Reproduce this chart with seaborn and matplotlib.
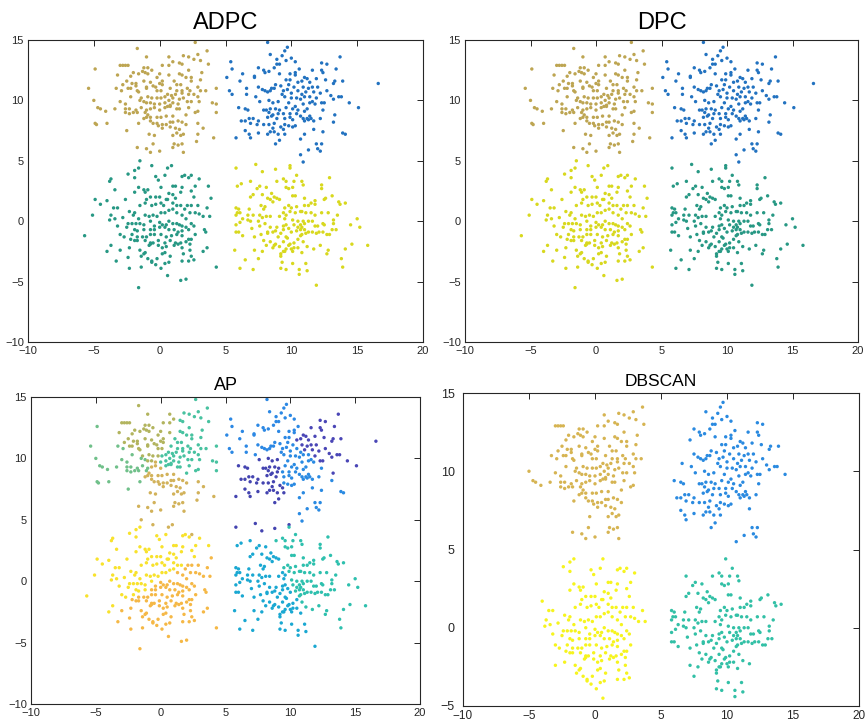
import numpy as np
import pandas as pd
import matplotlib
matplotlib.use("Agg")
import matplotlib.pyplot as plt
import seaborn as sns

# ---- point data: four Gaussian-like blobs (x, y) ----
blob_ul = [(2.7,14.8),(-1.7,14.3),(-1.0,13.6),(3.6,14.1),(0.7,13.6),(1.8,13.7),(2.2,13.6),(2.9,13.8),(2.6,13.4),(3.1,13.3),(1.0,13.2),(1.5,13.1),(1.7,13.0),(-4.9,12.6),(-3.0,12.9),(-2.8,12.9),(-2.6,12.9),(-2.4,12.9),(0.2,12.9),(0.7,12.9),(3.7,13.0),(-1.2,12.7),(-0.9,12.7),(-0.6,12.5),(2.2,12.5),(-1.3,12.4),(-2.0,12.3),(-1.6,12.2),(-1.1,12.3),(-0.9,12.2),(-3.2,12.1),(-2.2,12.0),(-0.2,11.9),(0.0,12.2),(0.7,12.1),(1.5,12.2),(1.7,12.1),(3.2,12.3),(2.0,11.9),(2.4,11.9),(2.4,11.6),(3.1,11.7),(0.2,11.6),(0.0,11.4),(-1.2,11.6),(-0.7,11.5),(-2.5,11.6),(-2.1,11.4),(-1.8,11.4),(-2.8,11.3),(-1.8,11.2),(-1.0,11.1),(-0.5,11.2),(-0.3,11.1),(0.2,11.3),(0.8,11.0),(1.1,11.6),(1.3,11.3),(1.6,11.3),(1.7,10.8),(-3.3,11.0),(-5.4,11.0),(-2.9,10.8),(-2.4,11.0),(-2.2,11.0),(-1.7,10.8),(-1.6,10.7),(-1.0,11.0),(-0.2,10.8),(0.1,10.8),(1.3,10.8),(2.1,11.0),(2.3,10.8),(2.9,11.1),(3.1,10.8),(3.5,10.8),(4.3,11.0),(0.6,10.5),(0.9,10.4),(1.2,10.5),(1.7,10.6),(2.2,10.5),(2.6,10.5),(-2.2,10.3),(-1.4,10.2),(-0.9,10.3),(-0.6,10.2),(-0.2,10.2),(0.1,10.2),(0.4,10.3),(0.7,10.0),(1.0,10.2),(1.5,10.1),(1.8,10.2),(2.1,9.9),(2.4,9.9),(2.9,10.3),(3.0,9.9),(-5.0,10.0),(-3.0,9.9),(-2.6,9.7),(-1.5,10.0),(-1.2,9.9),(-1.0,9.8),(-0.7,9.8),(-0.4,9.7),(0.0,9.7),(0.4,9.8),(0.8,9.6),(1.0,9.8),(1.4,9.7),(4.0,9.8),(4.3,9.7),(-2.6,9.3),(-2.3,9.3),(-1.8,9.2),(-1.7,9.0),(-1.4,9.4),(-1.0,9.2),(-0.7,9.3),(-0.4,9.4),(0.0,9.2),(0.4,9.4),(0.6,9.5),(0.8,9.5),(1.3,9.3),(1.5,9.3),(2.2,9.4),(2.7,9.0),(2.9,9.1),(-4.7,9.4),(-4.5,9.3),(-4.1,9.1),(-3.4,9.3),(-2.6,9.0),(-2.3,8.9),(-2.0,9.0),(-1.1,9.0),(-0.9,8.8),(-0.7,8.6),(-0.2,8.6),(0.1,8.6),(0.5,8.7),(1.0,8.7),(2.0,8.8),(4.3,9.0),(-1.2,8.5),(-1.0,8.6),(-0.7,8.3),(-0.5,8.1),(-0.2,8.1),(-0.1,7.9),(0.2,8.0),(0.5,8.0),(0.8,8.2),(1.0,8.2),(1.4,8.3),(1.7,8.2),(2.0,8.0),(2.9,8.1),(-4.9,8.1),(-4.8,8.0),(-4.0,8.1),(-1.6,8.1),(1.2,7.7),(1.5,7.6),(0.2,7.7),(0.8,7.8),(-2.5,7.5),(1.3,7.3),(1.0,7.1),(1.6,7.1),(1.8,7.2),(2.9,7.2),(3.3,7.7),(-0.8,7.2),(-0.4,7.1),(4.1,6.9),(2.8,6.6),(-0.5,6.4),(1.1,6.4),(1.4,6.3),(1.7,6.4),(-1.7,6.1),(-1.0,6.0),(-0.7,5.7),(0.0,5.8),(1.0,6.1),(1.8,5.7)]

blob_ur = [(8.2,14.8),(9.7,14.4),(9.5,14.1),(8.4,13.8),(9.3,13.7),(8.9,13.4),(10.0,13.5),(10.3,13.2),(9.6,13.3),(13.7,13.6),(5.4,13.2),(8.9,13.0),(9.1,13.0),(8.7,12.7),(7.5,12.7),(5.5,12.6),(12.3,13.1),(12.7,13.0),(13.4,12.6),(11.6,12.5),(12.3,12.5),(12.4,12.3),(7.9,12.5),(8.3,12.4),(8.0,12.3),(9.1,12.2),(9.9,12.2),(10.3,12.3),(10.6,12.6),(10.3,12.1),(6.3,12.2),(7.2,12.0),(7.2,11.9),(5.1,11.9),(6.1,11.6),(9.6,11.7),(9.9,11.7),(11.0,11.9),(11.2,11.8),(10.8,11.6),(10.5,11.5),(11.4,11.5),(11.9,11.8),(12.6,11.7),(13.2,11.4),(13.9,11.6),(13.3,11.6),(8.8,11.3),(9.2,11.2),(8.7,11.0),(9.8,11.3),(10.2,11.1),(10.9,11.1),(11.3,11.0),(11.6,11.1),(12.0,11.1),(7.5,11.1),(6.6,11.0),(7.8,10.9),(8.0,10.8),(8.4,10.8),(8.2,10.7),(8.5,11.0),(9.4,10.8),(9.7,10.9),(10.0,10.6),(10.5,10.8),(10.8,10.5),(11.1,10.7),(11.7,10.7),(12.2,10.6),(12.7,10.8),(13.0,10.4),(13.6,10.3),(13.8,10.3),(16.6,11.4),(5.3,10.8),(5.5,10.5),(6.6,10.5),(7.3,10.3),(9.3,10.5),(9.5,10.3),(10.0,10.2),(10.4,10.2),(10.7,10.1),(11.0,10.3),(11.4,10.3),(11.6,9.9),(11.9,10.2),(12.3,9.8),(12.5,9.8),(13.2,10.1),(7.6,9.9),(8.3,10.0),(8.6,9.8),(9.0,9.9),(9.8,9.8),(10.3,9.5),(10.9,9.7),(11.4,9.8),(11.8,9.7),(14.4,9.8),(15.1,9.4),(6.0,9.4),(6.5,9.3),(6.7,9.2),(7.9,9.2),(8.1,9.2),(8.4,9.3),(8.8,9.3),(9.1,9.2),(9.6,9.4),(10.1,9.3),(10.5,9.2),(11.0,9.1),(11.2,9.3),(12.4,9.2),(8.3,9.0),(8.6,8.8),(9.0,8.9),(9.4,8.9),(9.9,8.9),(10.4,8.9),(10.7,8.7),(11.4,8.7),(6.2,8.3),(6.5,8.3),(6.8,8.5),(7.1,8.5),(7.5,8.3),(8.2,8.6),(8.5,8.7),(8.9,8.5),(9.5,8.5),(9.9,8.6),(10.1,8.4),(10.9,8.5),(11.2,8.5),(11.5,8.5),(11.0,8.3),(11.3,8.4),(11.7,8.3),(12.2,8.5),(13.3,8.8),(7.4,8.0),(7.9,8.0),(8.3,8.0),(8.7,8.1),(9.5,8.0),(9.8,7.9),(10.3,7.9),(10.1,7.8),(9.2,7.8),(6.9,8.1),(13.2,8.2),(8.6,7.7),(9.4,7.6),(8.4,7.4),(6.5,7.5),(7.5,7.3),(8.2,7.2),(8.7,7.4),(9.0,7.2),(9.5,7.2),(11.7,7.6),(12.4,7.4),(13.9,7.3),(14.1,7.2),(6.8,7.2),(5.8,6.9),(6.9,6.9),(10.7,6.8),(8.8,6.4),(9.1,6.7),(11.0,7.2),(11.9,6.4),(12.3,6.4),(12.0,6.0),(12.2,5.8),(11.3,5.9),(10.7,5.5),(10.9,4.9)]

blob_ll = [(-1.5,5.0),(-1.9,4.2),(-1.6,4.4),(-0.6,4.6),(0.9,4.6),(0.6,4.4),(-2.4,3.9),(-1.9,3.6),(-3.7,3.5),(-3.8,3.3),(-0.3,3.7),(-0.1,3.4),(0.4,3.8),(1.7,3.7),(1.9,3.8),(2.2,3.6),(2.4,3.8),(3.0,3.5),(-3.4,2.6),(-1.6,2.8),(-1.2,2.6),(-0.9,2.6),(0.1,2.8),(1.0,2.9),(1.2,2.9),(1.7,2.8),(2.4,2.5),(2.7,2.9),(3.7,2.9),(-1.9,2.4),(-1.1,2.4),(0.7,2.3),(1.0,2.2),(1.6,2.4),(-4.9,1.8),(-4.5,1.4),(-4.0,1.7),(-2.6,1.8),(-1.0,1.8),(-0.7,2.0),(-0.3,2.0),(0.0,2.0),(0.5,1.8),(0.6,1.8),(1.2,1.9),(2.6,2.0),(2.9,1.3),(3.9,1.9),(2.4,1.3),(2.1,1.3),(-3.5,1.1),(-3.2,1.1),(-2.3,0.8),(-1.9,0.7),(-1.5,1.3),(-1.1,1.5),(-0.6,1.3),(-0.3,1.4),(0.1,1.5),(0.3,1.3),(1.0,1.5),(1.3,1.3),(1.6,1.3),(1.9,1.0),(2.3,0.7),(2.7,0.7),(3.0,0.6),(3.3,0.4),(3.6,1.1),(3.8,0.4),(-5.1,0.5),(-3.7,0.5),(-3.4,0.2),(-2.8,0.3),(-2.0,0.5),(-1.6,0.2),(-1.1,0.5),(-0.8,0.4),(-0.5,0.5),(-0.2,0.4),(0.1,0.7),(0.4,0.7),(0.7,0.9),(1.0,1.0),(1.3,0.7),(1.7,0.5),(2.0,0.2),(-3.8,0.1),(-2.4,-0.2),(-2.1,-0.2),(-1.8,-0.2),(-1.5,-0.2),(-1.2,-0.3),(-0.7,0.0),(-0.4,-0.4),(0.0,-0.1),(0.2,-0.3),(0.5,-0.3),(0.7,0.0),(1.0,-0.2),(1.3,-0.2),(1.5,-0.3),(1.7,-0.4),(2.0,-0.5),(2.4,-0.2),(2.6,-0.4),(3.4,-0.7),(3.5,-0.9),(-3.2,-0.4),(-2.5,-0.5),(-1.9,-0.7),(-1.7,-0.8),(-1.2,-0.7),(-0.7,-0.7),(-0.4,-0.7),(0.0,-0.5),(0.4,-0.5),(0.7,-0.7),(1.1,-0.7),(1.4,-0.9),(1.7,-0.8),(2.2,-0.7),(-5.7,-1.2),(-3.0,-1.1),(-2.7,-1.3),(-2.1,-1.1),(-1.7,-1.3),(-1.3,-1.3),(-1.0,-1.3),(-0.7,-1.1),(-0.4,-1.1),(0.1,-1.1),(0.5,-1.3),(0.9,-1.2),(1.3,-1.1),(1.7,-1.2),(2.2,-1.5),(2.4,-1.5),(2.7,-1.1),(-2.2,-1.5),(-1.9,-1.6),(-1.7,-1.6),(-1.1,-1.6),(-0.7,-1.8),(-0.5,-1.8),(-0.1,-1.6),(0.4,-1.8),(0.8,-1.6),(1.2,-1.8),(1.6,-1.8),(2.0,-1.7),(2.3,-1.9),(-3.7,-2.0),(-3.0,-2.4),(-2.3,-2.2),(-1.5,-2.4),(-1.2,-2.7),(-0.8,-2.0),(-0.7,-1.9),(-0.1,-2.0),(0.2,-2.2),(0.5,-2.1),(1.1,-2.0),(1.4,-1.9),(1.7,-2.2),(2.3,-2.4),(3.3,-2.5),(3.6,-2.2),(-4.0,-2.5),(-1.4,-2.9),(-1.1,-2.6),(-0.9,-3.1),(-0.6,-3.3),(-0.2,-3.1),(0.2,-2.7),(0.4,-2.6),(0.8,-2.9),(1.8,-2.7),(2.2,-3.3),(2.4,-2.9),(2.6,-3.2),(4.3,-3.8),(-3.3,-3.3),(-2.4,-3.0),(-2.3,-3.9),(-1.4,-3.8),(-0.6,-3.4),(-0.3,-3.6),(0.1,-3.9),(0.4,-3.5),(0.7,-3.4),(1.7,-3.3),(0.6,-4.5),(1.6,-4.9),(2.0,-4.8),(-1.6,-5.5)]

blob_lr = [(7.3,4.7),(7.8,4.1),(8.8,4.3),(9.9,4.6),(9.9,4.4),(10.4,3.8),(5.8,4.4),(6.9,3.3),(6.2,3.1),(5.9,2.9),(7.4,2.7),(7.6,2.9),(8.1,2.8),(8.9,3.3),(9.4,3.5),(9.6,3.3),(9.6,2.8),(9.8,2.7),(10.1,2.8),(10.2,3.3),(10.8,3.3),(10.9,3.0),(12.3,3.0),(12.3,2.7),(12.9,3.6),(6.9,2.0),(7.1,2.2),(7.8,2.2),(8.5,2.3),(8.7,2.0),(8.9,1.9),(9.1,1.8),(8.6,1.6),(8.4,1.8),(8.2,1.9),(10.1,2.1),(10.3,2.1),(11.0,1.9),(11.8,1.7),(12.5,1.8),(12.6,1.9),(13.1,2.1),(13.6,1.6),(13.7,1.4),(14.1,1.5),(7.7,1.3),(8.0,1.2),(7.9,1.0),(9.8,1.3),(10.4,1.2),(11.0,1.3),(11.3,1.3),(11.5,1.5),(11.8,1.4),(5.8,1.1),(6.0,1.0),(6.8,1.0),(5.9,0.7),(6.1,0.7),(5.8,0.5),(6.7,0.5),(7.1,0.5),(7.6,0.5),(8.1,0.4),(7.8,0.3),(8.4,0.4),(9.1,0.4),(9.4,0.7),(9.6,0.5),(9.9,0.8),(10.3,0.7),(10.7,0.8),(10.8,0.8),(11.1,0.7),(11.5,0.7),(11.8,0.5),(12.3,0.7),(12.8,0.7),(13.5,0.5),(10.0,1.1),(9.5,1.1),(6.3,0.2),(6.7,0.1),(6.9,0.0),(7.5,0.0),(9.5,0.2),(10.1,0.1),(10.5,0.0),(10.9,0.0),(11.3,0.0),(11.6,0.0),(13.2,0.1),(13.2,-0.2),(15.0,0.2),(14.5,-0.3),(5.8,-0.3),(6.1,-0.1),(7.6,-0.4),(8.0,-0.2),(8.4,-0.5),(8.9,-0.5),(9.4,-0.4),(9.6,-0.3),(10.2,-0.3),(10.5,-0.5),(10.7,-0.3),(11.0,-0.2),(10.8,-0.5),(11.8,-0.4),(12.0,-0.4),(12.4,-0.2),(12.5,-0.3),(15.2,-0.5),(13.1,-0.7),(13.4,-0.7),(7.0,-0.6),(8.2,-0.9),(8.6,-0.9),(8.8,-0.8),(9.2,-1.0),(9.4,-0.7),(9.8,-0.6),(10.0,-0.9),(10.4,-0.8),(10.7,-0.7),(11.0,-0.7),(11.3,-0.9),(11.6,-0.9),(11.9,-1.0),(12.4,-0.9),(12.7,-1.1),(12.9,-1.1),(5.8,-0.9),(6.0,-0.9),(6.3,-1.2),(7.2,-1.3),(7.7,-1.1),(8.2,-1.0),(9.0,-1.3),(9.6,-1.3),(10.7,-1.2),(10.8,-1.1),(11.1,-1.0),(12.1,-0.9),(8.4,-1.7),(8.8,-1.9),(7.9,-1.6),(8.1,-2.0),(9.4,-1.7),(9.7,-1.4),(9.9,-1.9),(10.2,-1.8),(10.5,-1.5),(10.9,-1.7),(10.0,-2.3),(10.2,-2.2),(10.5,-2.2),(9.6,-2.3),(9.1,-2.1),(8.6,-2.2),(8.7,-2.0),(9.8,-2.0),(10.1,-2.5),(10.8,-2.6),(11.2,-2.1),(11.7,-2.3),(12.2,-2.0),(12.8,-2.4),(12.7,-2.7),(14.6,-1.9),(15.8,-2.0),(14.1,-2.3),(5.7,-2.4),(7.2,-2.4),(7.8,-2.5),(9.2,-2.7),(9.4,-2.5),(9.5,-2.5),(6.5,-3.2),(7.5,-3.1),(9.2,-2.9),(9.3,-3.4),(10.1,-3.5),(11.1,-3.5),(13.8,-3.1),(13.9,-3.8),(6.1,-3.9),(7.1,-4.0),(9.2,-3.9),(9.6,-4.0),(10.6,-4.0),(11.2,-4.1),(10.6,-4.4),(11.9,-5.3)]

# ---- cluster colours per method ----
adpc_colors = {"ul": "#bda552", "ur": "#2272c0", "ll": "#279884", "lr": "#d8d81e"}
dpc_colors = {"ul": "#bda552", "ur": "#2272c0", "ll": "#d8d81e", "lr": "#279884"}
dbscan_colors = {"ul": "#d6b452", "ur": "#2a8ae0", "ll": "#f6f41e", "lr": "#32c0a6"}

# AP exemplars and their cluster colours
ap_exemplars = [(-1.2, 11.6), (-2.8, 9.6), (1.6, 10.2), (0.5, 7.9),
                (8.0, 11.8), (10.6, 9.0), (8.0, 8.5), (12.8, 11.0),
                (-1.5, 1.2), (0.5, -1.8), (8.3, -1.0), (11.8, 0.6)]
ap_colors = ["#b2b45e", "#70c08a", "#48c2a0", "#d2b25a",
             "#2c88e4", "#2a8ae2", "#4444b0", "#4a46b6",
             "#f8e22c", "#f5b846", "#1aa8d2", "#2ec0ae"]

# DBSCAN parameters
eps, min_pts = 0.8, 4

W, H = 865, 724
FONT = ["Liberation Sans", "DejaVu Sans"]

sns.set_style("white")
plt.rcParams["font.family"] = FONT

blobs = {"ul": blob_ul, "ur": blob_ur, "ll": blob_ll, "lr": blob_lr}
frames = []
for key, pts in blobs.items():
    arr = np.asarray(pts, dtype=float)
    frames.append(pd.DataFrame({"x": arr[:, 0], "y": arr[:, 1], "blob": key}))
df = pd.concat(frames, ignore_index=True)

# AP: each point joins its nearest exemplar
ex = np.asarray(ap_exemplars)
xy = df[["x", "y"]].to_numpy()
d2 = ((xy[:, None, :] - ex[None, :, :]) ** 2).sum(-1)
df["ap"] = d2.argmin(1)

# DBSCAN: drop noise points (neither core nor reachable from a core point)
dist = np.sqrt(((xy[:, None, :] - xy[None, :, :]) ** 2).sum(-1))
nb = dist <= eps
core = nb.sum(1) >= min_pts
df["db_keep"] = core | (nb & core[None, :]).any(1)

fig = plt.figure(figsize=(W / 100, H / 100), dpi=100)


def make_ax(l, t, r, b):
    return fig.add_axes([l / W, 1 - b / H, (r - l) / W, (b - t) / H])


def style(ax, title, tsize, tpad, ylim, lsize, xpad=3, ypad=3):
    ax.set_xlim(-10, 20)
    ax.set_ylim(*ylim)
    ax.set_xticks(range(-10, 21, 5))
    ax.set_yticks(range(ylim[0], ylim[1] + 1, 5))
    ax.set_xlabel("")
    ax.set_ylabel("")
    ax.tick_params(direction="in", length=4, width=0.7, top=True, right=True,
                   labelsize=lsize, colors="#262626")
    ax.tick_params(axis="x", pad=xpad)
    ax.tick_params(axis="y", pad=ypad)
    for s in ax.spines.values():
        s.set_visible(True)
        s.set_color("#262626")
        s.set_linewidth(0.8)
    ax.set_title(title, fontsize=tsize, pad=tpad, color="black")


msize = 6

ax1 = make_ax(28, 40, 423, 342)
sns.scatterplot(data=df, x="x", y="y", hue="blob", palette=adpc_colors,
                s=msize, linewidth=0, legend=False, ax=ax1)
style(ax1, "ADPC", 17, 8, (-10, 15), 8)

ax2 = make_ax(465, 40, 858, 342)
sns.scatterplot(data=df, x="x", y="y", hue="blob", palette=dpc_colors,
                s=msize, linewidth=0, legend=False, ax=ax2)
style(ax2, "DPC", 17, 8, (-10, 15), 8)

ax3 = make_ax(31, 397, 420, 704)
sns.scatterplot(data=df, x="x", y="y", hue="ap",
                palette={i: c for i, c in enumerate(ap_colors)},
                s=msize, linewidth=0, legend=False, ax=ax3)
style(ax3, "AP", 13, 5, (-10, 15), 8)

ax4 = make_ax(463, 393, 859, 706)
sns.scatterplot(data=df[df["db_keep"]], x="x", y="y", hue="blob",
                palette=dbscan_colors, s=msize, linewidth=0, legend=False, ax=ax4)
style(ax4, "DBSCAN", 12.5, 5, (-5, 15), 9, xpad=3, ypad=6)
ax4.tick_params(axis="x", labelsize=8.5)

fig.savefig("out.png", dpi=100)
